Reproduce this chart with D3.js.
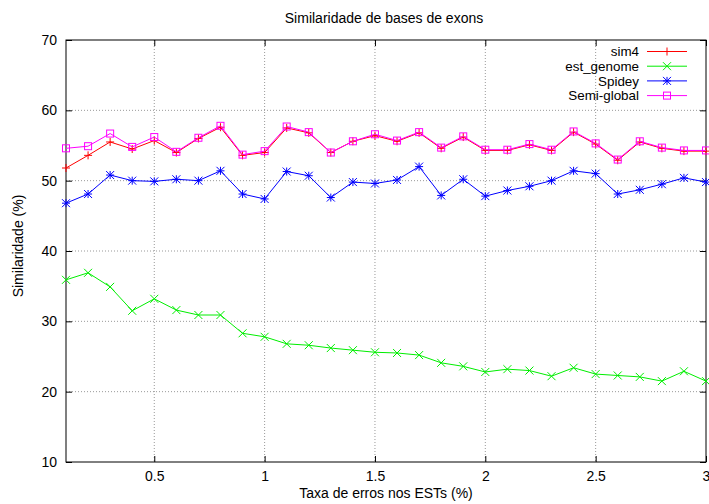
<!DOCTYPE html>
<html><head><meta charset="utf-8">
<script src="https://cdn.jsdelivr.net/npm/d3@7"></script>
<style>body{margin:0;background:#fff}svg{display:block}text{font-family:"Liberation Sans",Arial,sans-serif;}</style>
</head><body><svg id="c" width="709" height="504"></svg>
<script>
const xValues = [0.1,0.2,0.3,0.4,0.5,0.6,0.7,0.8,0.9,1.0,1.1,1.2,1.3,1.4,1.5,1.6,1.7,1.8,1.9,2.0,2.1,2.2,2.3,2.4,2.5,2.6,2.7,2.8,2.9,3.0];
const sim4 = [51.8,53.6,55.5,54.5,55.7,54.0,56.0,57.6,53.6,54.0,57.5,56.8,54.0,55.6,56.4,55.6,56.8,54.6,56.2,54.3,54.3,55.1,54.3,56.9,55.2,52.9,55.5,54.6,54.2,54.2];
const estGenome = [35.9,36.9,34.9,31.5,33.2,31.6,30.9,30.9,28.3,27.8,26.8,26.6,26.2,25.9,25.6,25.5,25.2,24.1,23.6,22.8,23.2,23.0,22.2,23.4,22.5,22.3,22.1,21.5,22.9,21.5];
const spidey = [46.8,48.1,50.8,50.0,49.9,50.2,50.0,51.4,48.1,47.4,51.3,50.7,47.6,49.8,49.6,50.1,52.0,47.9,50.2,47.8,48.6,49.2,50.0,51.4,51.0,48.1,48.7,49.5,50.4,49.8];
const semiGlobal = [54.6,54.9,56.7,54.8,56.2,54.1,56.1,57.8,53.7,54.2,57.7,56.9,54.0,55.6,56.6,55.7,56.9,54.7,56.3,54.4,54.4,55.2,54.4,57.0,55.3,53.0,55.6,54.7,54.3,54.3];
const seriesNames = ["sim4","est_genome","Spidey","Semi-global"];
const seriesColors = ["#ff0000","#00ee00","#0000ff","#ff00ff"];
const seriesMarkers = ["plus","cross","star","square"];
const xTicks = [0.5,1,1.5,2,2.5,3];
const yTicks = [10,20,30,40,50,60,70];
const titleText = "Similaridade de bases de exons";
const xLabel = "Taxa de erros nos ESTs (%)";
const yLabel = "Similaridade (%)";

const FS = 14;
const svg = d3.select("#c");
const L=66,R=706,T=40,B=462;
const x = d3.scaleLinear().domain([0.1,3]).range([L,R]);
const y = d3.scaleLinear().domain([10,70]).range([B,T]);

// grid
const g = svg.append("g");
xTicks.filter(v=>v<3).forEach(v=>{
  g.append("line").attr("x1",x(v)).attr("x2",x(v)).attr("y1",T).attr("y2",B)
   .attr("stroke","#999").attr("stroke-width",1).attr("stroke-dasharray","1,2");
});
yTicks.filter(v=>v>10&&v<70).forEach(v=>{
  g.append("line").attr("x1",L).attr("x2",R).attr("y1",y(v)).attr("y2",y(v))
   .attr("stroke","#999").attr("stroke-width",1).attr("stroke-dasharray","1,2");
});

// axes with inward ticks (mirrored)
const axB = d3.axisBottom(x).tickValues(xTicks).tickSize(-6).tickPadding(9).tickFormat(d3.format("~g"));
const axT = d3.axisTop(x).tickValues(xTicks).tickSize(-6).tickFormat("");
const axL = d3.axisLeft(y).tickValues(yTicks).tickSize(-6).tickPadding(9);
const axR = d3.axisRight(y).tickValues(yTicks).tickSize(-6).tickFormat("");
function style(sel){sel.select(".domain").remove();sel.selectAll("line").attr("stroke","#000");sel.selectAll("text").attr("font-size",FS).attr("fill","#000").attr("font-family","Liberation Sans, Arial, sans-serif");}
svg.append("g").attr("transform",`translate(0,${B})`).call(axB).call(style);
svg.append("g").attr("transform",`translate(0,${T})`).call(axT).call(style);
svg.append("g").attr("transform",`translate(${L},0)`).call(axL).call(style);
svg.append("g").attr("transform",`translate(${R},0)`).call(axR).call(style);
svg.append("rect").attr("x",L).attr("y",T).attr("width",R-L).attr("height",B-T).attr("fill","none").attr("stroke","#000").attr("stroke-width",1);

function marker(sel,type,cx,cy,color){
  const s=4;
  if(type==="plus"||type==="star"){
    sel.append("path").attr("d",`M${cx-s},${cy}H${cx+s}M${cx},${cy-s}V${cy+s}`).attr("stroke",color).attr("fill","none");
  }
  if(type==="cross"||type==="star"){
    sel.append("path").attr("d",`M${cx-s},${cy-s}L${cx+s},${cy+s}M${cx-s},${cy+s}L${cx+s},${cy-s}`).attr("stroke",color).attr("fill","none");
  }
  if(type==="square"){
    sel.append("rect").attr("x",cx-3.5).attr("y",cy-3.5).attr("width",7).attr("height",7).attr("stroke",color).attr("fill","none");
  }
}

const allSeries=[sim4,estGenome,spidey,semiGlobal];
const line = d3.line().x((d,i)=>x(xValues[i])).y(d=>y(d));
allSeries.forEach((vals,k)=>{
  const sg=svg.append("g");
  sg.append("path").datum(vals).attr("d",line).attr("fill","none").attr("stroke",seriesColors[k]).attr("stroke-width",1);
  vals.forEach((v,i)=>marker(sg,seriesMarkers[k],x(xValues[i]),y(v),seriesColors[k]));
});

// legend
seriesNames.forEach((n,k)=>{
  const ly=51.5+k*14.7;
  svg.append("text").attr("x",639).attr("y",ly).attr("dy","0.35em").attr("text-anchor","end").attr("font-size",13.4).text(n);
  svg.append("line").attr("x1",647).attr("x2",687).attr("y1",ly).attr("y2",ly).attr("stroke",seriesColors[k]);
  marker(svg,seriesMarkers[k],667,ly,seriesColors[k]);
});

svg.append("text").attr("x",384).attr("y",23).attr("text-anchor","middle").attr("font-size",FS).text(titleText);
svg.append("text").attr("x",386).attr("y",497.5).attr("text-anchor","middle").attr("font-size",FS).text(xLabel);
svg.append("text").attr("transform","translate(23,246) rotate(-90)").attr("text-anchor","middle").attr("font-size",FS).text(yLabel);
</script></body></html>
